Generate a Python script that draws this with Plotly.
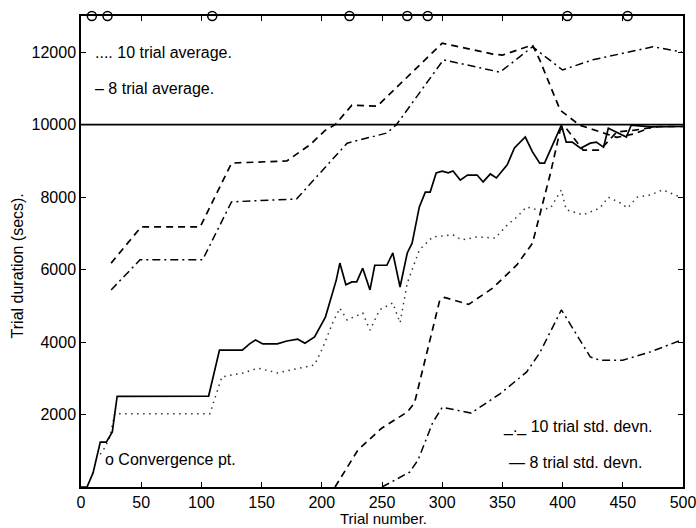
import plotly.graph_objects as go

# ---- data ----
avg8_x = [0, 5, 10, 16, 21, 26, 30, 106, 115, 134, 140, 145, 151, 163, 171, 180, 186, 194, 203, 208, 212, 215, 220, 225, 229, 234, 240, 244, 254, 259, 265, 271, 275, 281, 286, 290, 295, 300, 305, 309, 315, 321, 329, 334, 340, 345, 354, 360, 369, 375, 381, 385, 392, 399, 403, 408, 415, 423, 428, 434, 438, 441, 453, 457, 473, 500]
avg8_y = [0, 0, 390, 1240, 1240, 1520, 2500, 2510, 3780, 3780, 3950, 4060, 3950, 3950, 4030, 4080, 3970, 4140, 4690, 5240, 5710, 6180, 5580, 5660, 5660, 6040, 5440, 6120, 6120, 6460, 5520, 6460, 6730, 7730, 8140, 8140, 8670, 8720, 8670, 8720, 8470, 8610, 8610, 8420, 8640, 8530, 8890, 9360, 9660, 9250, 8940, 8940, 9490, 9990, 9520, 9520, 9350, 9490, 9520, 9380, 9900, 9850, 9660, 9990, 9940, 9950]

avg10_x = [16, 20, 24, 28, 107, 117, 135, 147, 163, 182, 194, 201, 209, 215, 221, 234, 240, 248, 259, 265, 271, 281, 292, 309, 316, 329, 344, 354, 362, 370, 379, 390, 399, 403, 417, 431, 438, 448, 454, 462, 473, 483, 498]
avg10_y = [900, 1100, 1380, 2020, 2020, 3040, 3150, 3280, 3150, 3280, 3370, 3860, 4530, 4940, 4610, 4800, 4330, 4890, 5080, 4530, 5630, 6540, 6900, 6960, 6820, 6900, 6870, 7230, 7450, 7730, 7650, 7700, 8200, 7650, 7510, 7700, 8000, 7840, 7700, 8000, 8060, 8200, 8000]

hi8_x = [25, 50, 99, 125, 171, 190, 203, 211, 225, 246, 300, 342, 350, 375, 381, 398, 414, 431, 445, 460, 475]
hi8_y = [6180, 7180, 7180, 8940, 9000, 9440, 9850, 10000, 10540, 10510, 12250, 11950, 11920, 12200, 11790, 10400, 9990, 9800, 9650, 9750, 9950]

hi10_x = [25, 49, 101, 125, 179, 221, 254, 262, 301, 348, 375, 400, 425, 456, 475, 499]
hi10_y = [5440, 6270, 6270, 7870, 7950, 9490, 9770, 10000, 11790, 11450, 12150, 11510, 11790, 12010, 12150, 12010]

lo8_x = [211, 230, 250, 271, 277, 298, 302, 322, 342, 362, 375, 384, 390, 398, 402, 417, 431, 435, 445, 460, 480, 500]
lo8_y = [0, 1020, 1630, 2070, 2320, 5160, 5230, 5040, 5490, 6130, 6730, 7920, 8670, 9850, 9940, 9300, 9300, 9440, 9800, 9850, 9950, 9950]

lo10_x = [250, 273, 280, 292, 300, 324, 348, 370, 381, 399, 423, 431, 450, 473, 499]
lo10_y = [0, 410, 750, 1770, 2200, 2040, 2570, 3170, 3700, 4890, 3590, 3500, 3500, 3730, 4060]

conv_x = [9, 22, 109, 223, 271, 288, 404, 454]
conv_y = [13000] * len(conv_x)

ref_x = [0, 500]
ref_y = [10000, 10000]

x_ticks = [0, 50, 100, 150, 200, 250, 300, 350, 400, 450, 500]
y_ticks = [2000, 4000, 6000, 8000, 10000, 12000]

FONT = "Liberation Sans, Arial, sans-serif"

fig = go.Figure()
fig.add_trace(go.Scatter(x=ref_x, y=ref_y, mode="lines", line=dict(color="black", width=1.8)))
fig.add_trace(go.Scatter(x=hi8_x, y=hi8_y, mode="lines", line=dict(color="black", width=1.7, dash="7px,5px")))
fig.add_trace(go.Scatter(x=hi10_x, y=hi10_y, mode="lines", line=dict(color="black", width=1.5, dash="8px,4px,2px,4px")))
fig.add_trace(go.Scatter(x=lo8_x, y=lo8_y, mode="lines", line=dict(color="black", width=1.7, dash="7px,5px")))
fig.add_trace(go.Scatter(x=lo10_x, y=lo10_y, mode="lines", line=dict(color="black", width=1.5, dash="8px,4px,2px,4px")))
fig.add_trace(go.Scatter(x=avg10_x, y=avg10_y, mode="lines", line=dict(color="#333333", width=1.5, dash="1.5px,4.5px")))
fig.add_trace(go.Scatter(x=avg8_x, y=avg8_y, mode="lines", line=dict(color="black", width=1.7)))
fig.add_trace(go.Scatter(x=conv_x, y=conv_y, mode="markers", cliponaxis=False,
                         marker=dict(symbol="circle-open", size=9, color="black", line=dict(width=1.5))))

annots = [
    dict(x=10, y=12000, text=".... 10 trial average.", xanchor="left"),
    dict(x=10, y=11000, text="\u2013 8 trial average.", xanchor="left"),
    dict(x=18, y=760, text="o Convergence pt.", xanchor="left"),
    dict(x=349, y=1650, text="_._ 10 trial std. devn.", xanchor="left"),
    dict(x=354, y=690, text="\u2014 8 trial std. devn.", xanchor="left"),
]
for a in annots:
    fig.add_annotation(xref="x", yref="y", showarrow=False, yanchor="middle",
                       font=dict(family=FONT, size=16, color="black"), **a)

fig.add_annotation(xref="paper", yref="paper", x=0.502, y=-0.087, text="Trial number.",
                   showarrow=False, xanchor="center", yanchor="bottom", borderpad=0,
                   font=dict(family=FONT, size=15, color="black"))
fig.add_annotation(xref="paper", yref="paper", x=-0.105, y=0.47, text="Trial duration (secs).",
                   showarrow=False, textangle=-90, xanchor="center", yanchor="middle",
                   font=dict(family=FONT, size=16, color="black"))

axis_common = dict(showgrid=False, zeroline=False, showline=True, linecolor="black", linewidth=1.5,
                   mirror="ticks", ticks="inside", ticklen=5, tickwidth=1.2, tickcolor="black",
                   automargin=False, tickfont=dict(family=FONT, size=16, color="black"))
fig.update_xaxes(range=[-0.01, 500.01], tickvals=x_ticks, ticktext=[str(v) for v in x_ticks],
                 ticklabeloverflow="allow", **axis_common)
fig.update_yaxes(range=[0, 13000], tickvals=y_ticks, ticktext=[str(v) for v in y_ticks], **axis_common)

fig.update_layout(width=696, height=528, showlegend=False,
                  margin=dict(l=81, r=13, t=16, b=41, autoexpand=False),
                  paper_bgcolor="white", plot_bgcolor="white")

fig.write_html("out.html")
